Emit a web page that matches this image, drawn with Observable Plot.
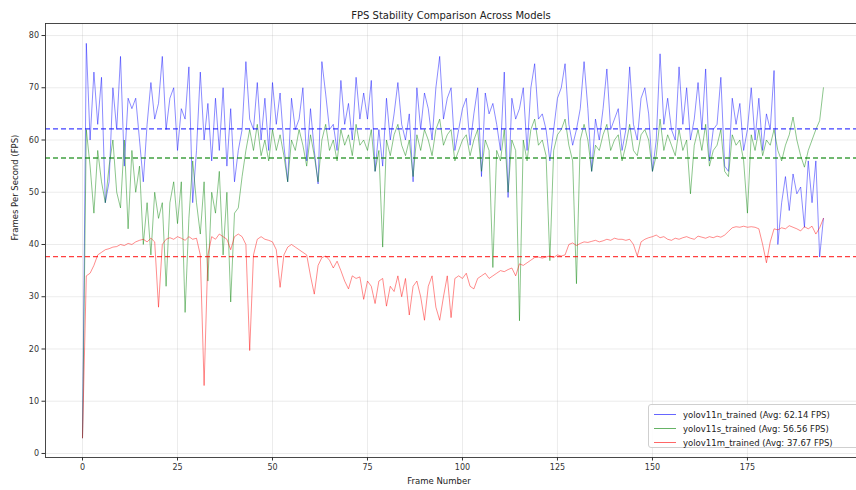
<!DOCTYPE html>
<html>
<head>
<meta charset="utf-8">
<script src="https://cdn.jsdelivr.net/npm/d3@7"></script>
<script src="https://cdn.jsdelivr.net/npm/@observablehq/plot@0.6"></script>
<style>
  html, body { margin: 0; padding: 0; background: #fff; overflow: hidden; }
  #wrap { position: relative; width: 856px; height: 490px; overflow: hidden; font-family: "DejaVu Sans", sans-serif; }
  #legend { position: absolute; left: 648px; top: 404px; width: 240px; height: 44px; border: 1px solid #cfcfcf; border-radius: 3px; background: rgba(255,255,255,0.85); box-sizing: border-box; }
  .row { position: absolute; left: 0; height: 14px; width: 100%; }
  .sw { position: absolute; left: 5px; top: 6px; width: 22px; height: 0; border-top: 1px solid; }
  .lb { position: absolute; left: 34px; top: 1px; font-size: 8.5px; color: #222; white-space: nowrap; line-height: 12px; }
</style>
</head>
<body>
<div id="wrap"><div id="chart"></div><div id="legend"></div></div>
<script>
// ---- data ----
const title = "FPS Stability Comparison Across Models";
const xLabel = "Frame Number";
const yLabel = "Frames Per Second (FPS)";
const models = ["yolov11n_trained", "yolov11s_trained", "yolov11m_trained"];
const averages = [62.14, 56.56, 37.67];
const colors = ["blue", "green", "red"];
const xTicks = [0, 25, 50, 75, 100, 125, 150, 175];
const yTicks = [0, 10, 20, 30, 40, 50, 60, 70, 80];

const fpsN = [3,78.5,60,73,63,72,48,52,70,62,76,55,68,66,68,60,52,63,71,64,
  67,76,62,68,70,58,66,64,74,48,58,73,60,67,56,68,58,70,55,66,
  52,58,62,75,64,62,71,60,68,58,71,63,69,59,52,68,62,64,70,56,
  66,58,51.6,75,68.8,62,63,58,71.4,63,67,60,72,64,69,64,71.4,54,62,55,
  68,60,65,71,63,60,65,52,70,62,69,66,60,70,76,64,68,70,58,62,
  66,68,59,65,70,53,69,65,67,63,58,73,49,68,64,66,70,58,70,74.6,
  64,65,62,56,62,68,70,74.6,63,59,62,66,75,66,54,64,60,66,73.6,62,
  64,66,58,62,74,63,60,68,70,65,54,60,76.5,63,68,62,60,74,63,70,
  60,64,71,62,73.6,56,62,63,72,55,54,68,63,67,58,62,70,60,68,58,
  65,62,73.3,40,48,53,46.5,53.5,49.7,51,43.3,56,48,56,37.6,45];

const fpsS = [3,62,55,46,58,52,48,55,60,50,47,60,43,58,50,55,40,48,38,50,
  45,48,32,48,52,44,52,27,45,56,48,42,52,33,50,46,54,38,50,29,
  46,47,53,58,62,58,63,57,60,56,62,58,61,57,52,60,58,62,59,55,
  61,57,52,60,63,58,60,56,62,59,61,57,63,59,60,58,62,54,58,39.5,
  60,57,61,63,59,57,60,53,61,58,62,60,57,62,64,59,61,62,56,58,
  60,61,57,60,62,54,60,58,35.6,58,56,62,50,60,58,25.4,60,56,62,64,
  59,60,57,36.9,58,61,62,64,59,56,32.5,60,63,60,54,59,58,61,63,58,
  60,61,56,59,63,58,57,61,62,60,54,57,64,58,61,59,57,62,58,60,
  49.7,59,62,58,63,55,58,59,62,54,53,61,59,60,56,46,61,58,62,57,
  60,59,62,58,56,59,61,64.4,60,57,54.8,58,60,62,63.7,70];

const fpsM = [3,34,34.5,36,38,38.5,39,39.2,39.5,39.6,40,39.8,40.2,40,40.5,40.8,41,40.5,41.2,40.5,
  28,40,41,41.3,41,41.5,41.2,40.8,41.5,41,41.2,38,13,38,41.5,41,42,41.5,41,39,
  41.5,42,41.5,40,19.7,38,41,41.5,41,40.8,40.5,39,31.8,38,39.5,40,39.5,39,38.5,38,
  34,30.5,36,37.5,37.8,37,35.5,36.8,35,33,31.5,34,33.5,33.8,29.5,33,32,28.7,33,33.5,
  28.2,32,31,34,30,33.5,26.5,32,33,30,25.5,32,34,28,25.5,30,34,26,33.5,34,
  33.5,34.5,32,31.5,33.5,34,34.5,33.5,34,34.5,35,34.8,35.2,35.5,34,36.3,36,36.5,37,37.5,
  37.6,37.4,37.6,37.8,37.5,38,37.8,38,40,40.3,39.8,40.2,40.5,40.4,40.6,40.8,40.5,40.7,41,40.8,
  41.2,41,41,40.8,41,40,37.8,40.5,41,41.3,41.5,41.8,41.3,41.5,41,40.8,41.2,41,41.3,41.5,
  41.2,41,41.6,41.4,41.2,41.5,41.3,41.6,41.4,41.8,42.5,43.2,43.4,43.3,43.5,43.3,43.4,43.3,43,40,
  36.5,40.5,43,42.8,43.2,43,43.6,43.3,43,42.6,43.4,43,43.5,42,43.2,45];

// ---- build table ----
const seriesValues = [fpsN, fpsS, fpsM];
const rows = [];
seriesValues.forEach((vals, k) => vals.forEach((v, i) => rows.push({frame: i, fps: v, model: models[k]})));
const avgRows = models.map((m, k) => ({model: m, avg: averages[k]}));

const xDomain = [-9.74, 203.7];
const yDomain = [-0.77, 82.3];

const chart = Plot.plot({
  width: 856,
  height: 490,
  marginLeft: 45,
  marginRight: 0,
  marginTop: 23,
  marginBottom: 33,
  style: {fontFamily: "DejaVu Sans, sans-serif", fontSize: "8px", color: "#333", background: "#fff"},
  x: {domain: xDomain},
  y: {domain: yDomain},
  color: {domain: models, range: colors},
  marks: [
    Plot.gridX(xTicks, {stroke: "#b0b0b0", strokeOpacity: 0.3, strokeWidth: 0.8}),
    Plot.gridY(yTicks, {stroke: "#b0b0b0", strokeOpacity: 0.3, strokeWidth: 0.8}),
    Plot.lineY(rows, {x: "frame", y: "fps", z: "model", stroke: "model", strokeOpacity: 0.5, strokeWidth: 0.9}),
    Plot.ruleY(avgRows, {y: "avg", stroke: "model", strokeDasharray: "5,3", strokeWidth: 1.4, strokeOpacity: 0.75}),
    Plot.ruleX([xDomain[0]], {stroke: "#333", strokeWidth: 0.9}),
    Plot.ruleY([yDomain[0]], {stroke: "#333", strokeWidth: 0.9}),
    Plot.ruleY([yDomain[1]], {stroke: "#333", strokeWidth: 0.9}),
    Plot.axisX({ticks: xTicks, tickSize: 3.5, tickPadding: 3, label: null, fontSize: 8}),
    Plot.axisY({ticks: yTicks, tickSize: 3.5, tickPadding: 3, label: null, fontSize: 8}),
    Plot.text([title], {frameAnchor: "top", dy: -12, fontSize: 10, fill: "#222"}),
    Plot.text([xLabel], {frameAnchor: "bottom", dy: 26, dx: -12, fontSize: 8.5, fill: "#222"}),
    Plot.text([yLabel], {frameAnchor: "left", dx: -30, rotate: -90, fontSize: 8.5, fill: "#222"})
  ]
});
document.getElementById("chart").appendChild(chart);

// ---- legend ----
const legend = document.getElementById("legend");
models.forEach((m, k) => {
  const row = document.createElement("div");
  row.className = "row";
  row.style.top = (3 + k * 14) + "px";
  const sw = document.createElement("div");
  sw.className = "sw";
  sw.style.borderTopColor = colors[k];
  sw.style.opacity = 0.6;
  const lb = document.createElement("div");
  lb.className = "lb";
  lb.textContent = `${m} (Avg: ${averages[k].toFixed(2)} FPS)`;
  row.appendChild(sw); row.appendChild(lb);
  legend.appendChild(row);
});
</script>
</body>
</html>
